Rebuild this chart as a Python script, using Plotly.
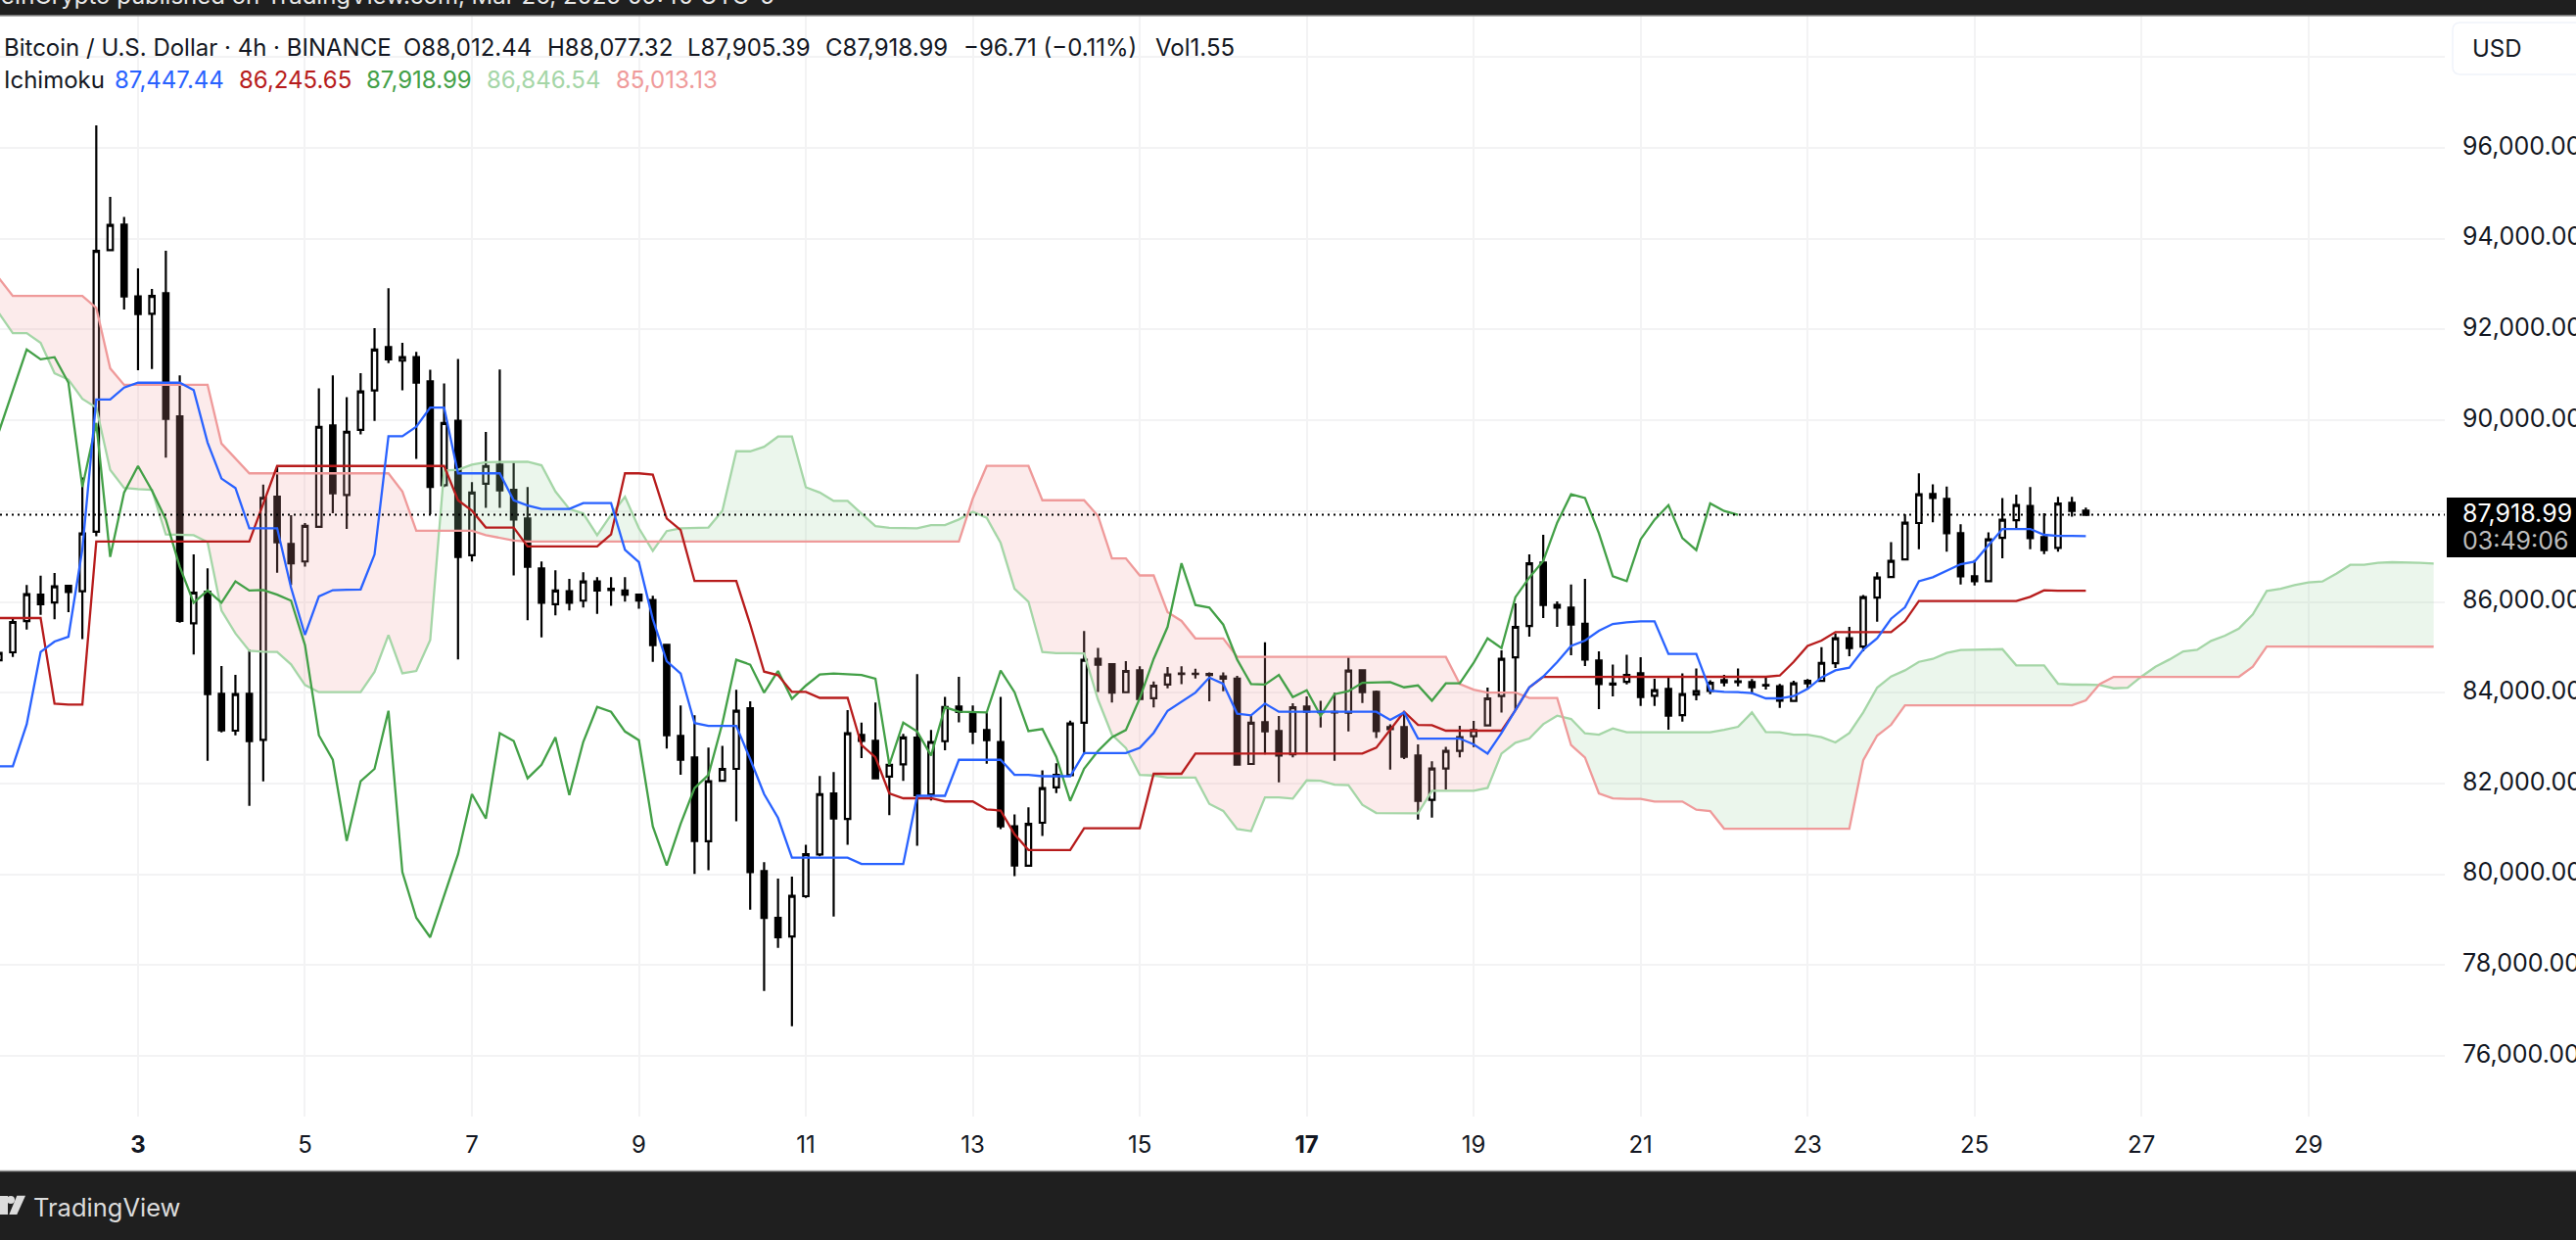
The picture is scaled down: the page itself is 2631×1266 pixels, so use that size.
import pandas as pd
import plotly.graph_objects as go

# BTC/USD 4h candles, first bar is 1 Mar 08:00
open_ = [84716, 84889, 85579, 86159, 85989, 86352, 86236, 87546, 93748, 94311,
         92731, 92346, 92800, 90088, 85527, 86227, 83976, 83163, 83976, 82962,
         88316, 87276, 86891, 87654, 89888, 88355, 89788, 90658, 91614, 91313,
         91390, 90859, 88571, 89988, 87030, 88601, 89025, 88470, 87839, 86737,
         85951, 86236, 86028, 86452, 86290, 86251, 86159, 86044, 85057, 83046,
         82576, 80727, 82060, 82322, 83655, 80072, 79042, 78630, 79517, 80435,
         81783, 81220, 83069, 82938, 82152, 82422, 83008, 81760, 82931, 83693,
         83562, 83177, 82915, 81058, 80187, 81135, 81914, 82183, 83339, 84749,
         84626, 84010, 84495, 83878, 84179, 84410, 84420, 84410, 84356, 84310,
         82430, 83350, 83155, 82645, 83695, 83590, 83575, 83558, 84493, 84018,
         83240, 83242, 82616, 81638, 82328, 82717, 83040, 83278, 83925, 84781,
         85471, 86866, 85931, 85874, 85521, 84709, 84200, 84241, 84428, 83932,
         84083, 83508, 83961, 84040, 84277, 84250, 84234, 84170, 84141, 83817,
         84263, 84263, 84651, 85198, 85018, 86097, 86550, 86938, 87737, 88377,
         88269, 87514, 86564, 86456, 87413, 87801, 88111, 87427, 87190, 88182,
         88012]
high = [84900, 85666, 86374, 86575, 86637, 86367, 88740, 96499, 94919, 94480,
        93348, 92893, 93733, 90990, 87045, 86737, 84587, 84393, 84947, 88586,
        88994, 87908, 87738, 90705, 90990, 90512, 91036, 92030, 92908, 91706,
        91506, 91113, 90813, 91352, 88640, 89742, 91121, 89064, 88532, 86891,
        86698, 86505, 86652, 86544, 86544, 86544, 86174, 86136, 85057, 83717,
        83501, 82792, 82831, 84063, 83809, 80265, 79905, 79948, 80650, 82168,
        82253, 83616, 83339, 83786, 82499, 83092, 84410, 83177, 83909, 84348,
        83717, 83562, 83909, 81320, 81475, 82291, 82445, 83385, 85358, 84988,
        84626, 84695, 84580, 84248, 84564, 84580, 84526, 84449, 84449, 84371,
        83501, 85111, 83486, 83767, 83918, 83824, 83997, 84781, 84493, 84047,
        83306, 83580, 82860, 82487, 82810, 83270, 83378, 84112, 84932, 85967,
        87046, 87478, 86011, 86384, 86507, 84910, 84622, 84838, 84781, 84306,
        84335, 84428, 84536, 84277, 84392, 84536, 84299, 84335, 84191, 84263,
        84299, 85004, 85306, 85450, 86154, 86651, 87319, 87931, 88830, 88592,
        88542, 87708, 86924, 87535, 88290, 88362, 88528, 87952, 88312, 88312,
        88077]
low = [84650, 84788, 85392, 85712, 85620, 85773, 85180, 87446, 93733, 92438,
       91105, 91129, 89179, 85542, 84839, 82501, 83127, 83062, 81509, 82048,
       86644, 86374, 86775, 87654, 87954, 87607, 89688, 89988, 91260, 90658,
       89148, 87931, 88532, 84731, 86891, 88070, 88070, 86582, 85594, 85220,
       85702, 85812, 85874, 85735, 85912, 86005, 85850, 84680, 82769, 82191,
       80010, 80087, 82037, 81166, 79221, 77431, 78380, 76655, 79479, 80396,
       79070, 80650, 82561, 82114, 81305, 82060, 80627, 81628, 82730, 83347,
       82869, 82437, 80997, 79957, 80187, 80843, 81790, 82183, 82638, 84017,
       83786, 84010, 83863, 83678, 84094, 84187, 84310, 83809, 84032, 82414,
       82430, 82638, 82026, 82573, 82681, 83234, 82501, 83148, 83774, 83004,
       82307, 82537, 81206, 81249, 81868, 82573, 82803, 83278, 83565, 83616,
       85234, 85644, 85450, 84824, 84586, 83637, 83918, 84184, 83709, 83709,
       83184, 83364, 83831, 83968, 84141, 84141, 83975, 84069, 83666, 83795,
       84069, 84263, 84543, 84802, 84910, 85565, 86550, 86938, 87161, 87751,
       87104, 86385, 86363, 86435, 86960, 87607, 87161, 87053, 87104, 87880,
       87905]
close = [84875, 85558, 86169, 85951, 86344, 86220, 87507, 93733, 94303, 92731,
         92338, 92739, 90034, 85581, 86205, 83968, 83170, 83968, 82933, 88293,
         87315, 86852, 87677, 89857, 88393, 89749, 90635, 91560, 91344, 91390,
         90828, 88532, 89942, 86991, 88409, 88994, 88455, 87815, 86775, 85982,
         86251, 85982, 86452, 86251, 86260, 86159, 86028, 85050, 83062, 82522,
         80735, 82052, 82322, 83601, 80049, 79042, 78612, 79525, 80442, 81767,
         81228, 83108, 82938, 82114, 82414, 83015, 81744, 82915, 83686, 83578,
         83146, 82954, 81058, 80195, 81112, 81898, 82191, 83324, 84726, 84618,
         84002, 84479, 83863, 84156, 84402, 84425, 84410, 84390, 84310, 82414,
         83339, 83148, 82616, 83680, 83580, 83570, 83565, 84486, 84011, 83155,
         83200, 82587, 81616, 82328, 82717, 83019, 83177, 83875, 84745, 85450,
         86852, 85931, 85874, 85500, 84730, 84191, 84180, 84392, 83903, 84054,
         83493, 83968, 84033, 84220, 84227, 84235, 84119, 84160, 83824, 84205,
         84205, 84658, 85198, 84982, 86104, 86536, 86902, 87744, 88370, 88290,
         87514, 86564, 86456, 87377, 87809, 88132, 87406, 87140, 88168, 88003,
         87919]

# Ichimoku lines, same first bar as the candles
tenkan = [82379, 82379, 83307, 84896, 85126, 85234, 87160, 90458, 90458, 90720,
          90828, 90828, 90828, 90828, 90666, 89511, 88717, 88509, 87623, 87623,
          87623, 86313, 85273, 86120, 86259, 86267, 86275, 87045, 89649, 89649,
          89857, 90281, 90281, 88832, 88832, 88832, 88832, 88239, 88124, 88047,
          88047, 88047, 88178, 88178, 88178, 87145, 86875, 85620, 84695, 84425,
          83331, 83270, 83270, 83270, 82538, 81767, 81243, 80365, 80365, 80365,
          80365, 80365, 80226, 80226, 80226, 80226, 81729, 81729, 81729, 82522,
          82522, 82522, 82522, 82191, 82191, 82160, 82160, 82160, 82669, 82669,
          82669, 82669, 82784, 83116, 83601, 83794, 84002, 84333, 84194, 83539,
          83501, 83760, 83580, 83580, 83580, 83580, 83580, 83580, 83580, 83580,
          83400, 83565, 82990, 82990, 82990, 82990, 82860, 82659, 83112, 83616,
          84119, 84356, 84673, 85032, 85148, 85363, 85514, 85550, 85572, 85572,
          84853, 84853, 84853, 84047, 84018, 84011, 83990, 83875, 83875, 83925,
          84083, 84335, 84493, 84551, 84946, 85198, 85629, 85881, 86456, 86543,
          86687, 86830, 86888, 87248, 87607, 87607, 87607, 87478, 87456, 87456,
          87447]
kijun = [85644, 85644, 85644, 85644, 83760, 83738, 83738, 87330, 87330, 87330,
         87330, 87330, 87330, 87330, 87330, 87330, 87330, 87330, 87330, 88162,
         88994, 88994, 88994, 88994, 88994, 88994, 88994, 88994, 88994, 88994,
         88994, 88994, 88994, 88239, 88008, 87638, 87638, 87638, 87222, 87222,
         87222, 87222, 87222, 87222, 87484, 88832, 88832, 88802, 87839, 87584,
         86460, 86460, 86460, 86460, 85504, 84464, 84387, 84017, 84017, 83886,
         83886, 83886, 82846, 82576, 81783, 81675, 81675, 81675, 81605, 81605,
         81605, 81428, 81405, 80881, 80534, 80534, 80534, 80534, 81012, 81012,
         81012, 81012, 81012, 82214, 82214, 82214, 82660, 82660, 82660, 82660,
         82660, 82660, 82660, 82660, 82660, 82660, 82660, 82660, 82660, 82789,
         83184, 83580, 83292, 83285, 83163, 83163, 83163, 83163, 83163, 83616,
         84119, 84349, 84350, 84350, 84350, 84350, 84350, 84350, 84350, 84350,
         84350, 84350, 84350, 84350, 84350, 84350, 84350, 84350, 84378, 84680,
         85032, 85148, 85334, 85334, 85334, 85334, 85334, 85579, 86018, 86018,
         86018, 86018, 86018, 86018, 86018, 86018, 86111, 86255, 86246, 86246,
         86246]
# lagging span, ends 25 bars before the last candle
chikou = [89749, 90635, 91560, 91344, 91390, 90828, 88532, 89942, 86991, 88409,
          88994, 88455, 87815, 86775, 85982, 86251, 85982, 86452, 86251, 86260,
          86159, 86028, 85050, 83062, 82522, 80735, 82052, 82322, 83601, 80049,
          79042, 78612, 79525, 80442, 81767, 81228, 83108, 82938, 82114, 82414,
          83015, 81744, 82915, 83686, 83578, 83146, 82954, 81058, 80195, 81112,
          81898, 82191, 83324, 84726, 84618, 84002, 84479, 83863, 84156, 84402,
          84425, 84410, 84390, 84310, 82414, 83339, 83148, 82616, 83680, 83580,
          83570, 83565, 84486, 84011, 83155, 83200, 82587, 81616, 82328, 82717,
          83019, 83177, 83875, 84745, 85450, 86852, 85931, 85874, 85500, 84730,
          84191, 84180, 84392, 83903, 84054, 83493, 83968, 84033, 84220, 84227,
          84235, 84119, 84160, 83824, 84205, 84205, 84658, 85198, 84982, 86104,
          86536, 86902, 87744, 88370, 88290, 87514, 86564, 86456, 87377, 87809,
          88132, 87406, 87140, 88168, 88003, 87919]
# cloud, runs 25 bars past the last candle
senkou_a = [92361, 91922, 91922, 91706, 91036, 90897, 90474, 90281, 88910, 88509,
            88486, 88470, 87484, 87469, 87469, 87315, 85812, 85306, 84925, 84903,
            84896, 84623, 84170, 84012, 84012, 84012, 84012, 84458, 85270, 84429,
            84479, 85162, 88894, 88910, 89025, 89079, 89087, 89087, 89087, 89010,
            88432, 88047, 87946, 87469, 87916, 88316, 87623, 87122, 87561, 87623,
            87631, 87638, 88008, 89318, 89318, 89418, 89642, 89642, 88525, 88409,
            88224, 88224, 87947, 87669, 87631, 87623, 87623, 87692, 87692, 87816,
            87985, 87854, 87299, 86290, 86005, 84895, 84872, 84872, 84865, 83848,
            83077, 82784, 82191, 82176, 82130, 82130, 82130, 81551, 81397, 80997,
            80950, 81695, 81695, 81667, 82069, 82062, 81976, 81962, 81530, 81350,
            81343, 81343, 81343, 81839, 81839, 81839, 81839, 81904, 82659, 82896,
            82990, 83306, 83493, 83421, 83105, 83076, 83213, 83127, 83127, 83127,
            83127, 83127, 83127, 83127, 83184, 83249, 83565, 83134, 83127, 83076,
            83076, 83019, 82904, 83112, 83565, 84112, 84356, 84493, 84680, 84745,
            84874, 84939, 84946, 84960, 84960, 84601, 84601, 84601, 84198, 84177,
            84177, 84169, 84097, 84112, 84356, 84572, 84730, 84910, 84946, 85140,
            85255, 85414, 85723, 86241, 86291, 86370, 86428, 86449, 86622, 86816,
            86816, 86859, 86874, 86859, 86859, 86846]
senkou_b = [93132, 92739, 92739, 92739, 92739, 92739, 92739, 92477, 91144, 90782,
            90782, 90782, 90782, 90782, 90782, 90782, 89487, 89164, 88832, 88832,
            88832, 88832, 88832, 88832, 88832, 88832, 88832, 88832, 88832, 88432,
            87569, 87569, 87569, 87569, 87569, 87469, 87407, 87353, 87330, 87330,
            87330, 87330, 87330, 87330, 87330, 87330, 87330, 87330, 87330, 87330,
            87330, 87330, 87330, 87330, 87330, 87330, 87330, 87330, 87330, 87330,
            87330, 87330, 87330, 87330, 87330, 87330, 87330, 87330, 87330, 87330,
            88278, 88995, 88995, 88995, 88995, 88239, 88239, 88239, 88239, 87893,
            86960, 86960, 86583, 86583, 85774, 85581, 85196, 85196, 85196, 84790,
            84790, 84790, 84790, 84790, 84790, 84790, 84790, 84790, 84790, 84790,
            84790, 84790, 84790, 84790, 84790, 84191, 84069, 84004, 84004, 84004,
            83882, 83882, 83882, 82846, 82573, 81782, 81674, 81660, 81660, 81602,
            81602, 81602, 81422, 81393, 81005, 81005, 81005, 81005, 81005, 81005,
            81005, 81005, 81005, 81005, 82515, 83055, 83292, 83723, 83723, 83723,
            83723, 83723, 83723, 83723, 83723, 83723, 83723, 83723, 83723, 83723,
            83831, 84191, 84349, 84349, 84349, 84349, 84349, 84349, 84349, 84349,
            84349, 84349, 84572, 85018, 85018, 85018, 85018, 85018, 85018, 85018,
            85018, 85018, 85018, 85018, 85018, 85013]

price_ticks = [76000, 78000, 80000, 82000, 84000, 86000, 88000, 90000, 92000, 94000, 96000, 98000]
# 88,000 sits under the price tag and 98,000 under the USD button
price_labels = ["76,000.00", "78,000.00", "80,000.00", "82,000.00", "84,000.00", "86,000.00",
                "", "90,000.00", "92,000.00", "94,000.00", "96,000.00", ""]
day_ticks = ["2025-03-03", "2025-03-05", "2025-03-07", "2025-03-09", "2025-03-11", "2025-03-13", "2025-03-15",
             "2025-03-17", "2025-03-19", "2025-03-21", "2025-03-23", "2025-03-25", "2025-03-27", "2025-03-29"]
day_labels = ["<b>3</b>", "5", "7", "9", "11", "13", "15", "<b>17</b>", "19", "21", "23", "25", "27", "29"]
last_price = 87918.99

BLUE, RED, GREEN, LIGHT_GREEN, LIGHT_RED = "#2962ff", "#b71c1c", "#43a047", "#a5d6a7", "#ef9a9a"
FONT = "Inter"
TEXT = "#131722"

# page pixels of the chart pane
PANE_W, PANE_T, PANE_B = 2497, 16, 1140
W, H = 2631, 1266


def px(x):
    return x / PANE_W


def py(y):
    return (PANE_B - y) / (PANE_B - PANE_T)


t0 = pd.Timestamp("2025-03-01 08:00")


def bar_time(i):
    return t0 + pd.Timedelta(hours=4 * i)


bars = [bar_time(i) for i in range(len(senkou_a))]


def cloud_regions(a, b):
    # split the cloud where the two spans cross, one polygon per colour run
    regions = []
    cur = [(0, a[0], b[0])]
    for i in range(1, len(a)):
        d0, d1 = a[i - 1] - b[i - 1], a[i] - b[i]
        if d0 * d1 < 0:
            f = d0 / (d0 - d1)
            v = a[i - 1] + f * (a[i] - a[i - 1])
            cur.append((i - 1 + f, v, v))
            regions.append((d0 > 0, cur))
            cur = [(i - 1 + f, v, v)]
        cur.append((i, a[i], b[i]))
    regions.append((a[-1] - b[-1] > 0, cur))
    return regions


fig = go.Figure()

for is_green, pts in cloud_regions(senkou_a, senkou_b):
    xs = [bar_time(p[0]) for p in pts] + [bar_time(p[0]) for p in reversed(pts)]
    ys = [p[1] for p in pts] + [p[2] for p in reversed(pts)]
    fig.add_trace(go.Scatter(
        x=xs, y=ys, mode="lines", fill="toself", line=dict(width=0),
        fillcolor="rgba(165,214,167,0.22)" if is_green else "rgba(239,154,154,0.2)",
        hoverinfo="skip", showlegend=False
    ))

for name, vals, color in [("Leading Span A", senkou_a, LIGHT_GREEN), ("Leading Span B", senkou_b, LIGHT_RED),
                          ("Lagging Span", chikou, GREEN), ("Base Line", kijun, RED),
                          ("Conversion Line", tenkan, BLUE)]:
    fig.add_trace(go.Scatter(x=bars[:len(vals)], y=vals, mode="lines", name=name,
                             line=dict(color=color, width=2.3), showlegend=False))

fig.add_trace(go.Candlestick(
    x=bars[:len(close)], open=open_, high=high, low=low, close=close,
    increasing=dict(line=dict(color="#000000", width=2.2), fillcolor="#ffffff"),
    decreasing=dict(line=dict(color="#000000", width=2.2), fillcolor="#000000"),
    whiskerwidth=0, showlegend=False, name="BTCUSD"
))

shapes = [
    # last price line
    dict(type="line", xref="paper", x0=0, x1=1, yref="y", y0=last_price, y1=last_price,
         line=dict(color="#000000", width=2, dash="2px,4px")),
    # top and bottom bars
    dict(type="rect", xref="paper", yref="paper", x0=px(0), x1=px(W), y0=py(0), y1=py(16),
         fillcolor="#1f1f1f", line_width=0),
    dict(type="rect", xref="paper", yref="paper", x0=px(0), x1=px(W), y0=py(1195), y1=py(H + 2),
         fillcolor="#1f1f1f", line_width=0),
    dict(type="line", xref="paper", yref="paper", x0=px(0), x1=px(W), y0=py(16), y1=py(16),
         line=dict(color="#8f8f8f", width=1.5)),
    dict(type="line", xref="paper", yref="paper", x0=px(0), x1=px(W), y0=py(1195.5), y1=py(1195.5),
         line=dict(color="#9a9a9a", width=1.5)),
    # price tag
    dict(type="rect", xref="paper", yref="paper", x0=px(2499), x1=px(W), y0=py(508), y1=py(569),
         fillcolor="#000000", line_width=0),
    # USD button
    dict(type="path", xref="paper", yref="paper",
         path=f"M {px(W + 20)},{py(23)} L {px(2513)},{py(23)} Q {px(2505)},{py(23)} {px(2505)},{py(31)} "
              f"L {px(2505)},{py(68)} Q {px(2505)},{py(76)} {px(2513)},{py(76)} L {px(W + 20)},{py(76)}",
         line=dict(color="#f0f3fa", width=1.5), fillcolor="#ffffff"),
    # TradingView mark
    dict(type="rect", xref="paper", yref="paper", x0=px(0), x1=px(8), y0=py(1221), y1=py(1240),
         fillcolor="#dcdcdc", line_width=0),
    dict(type="circle", xref="paper", yref="paper", x0=px(7), x1=px(15), y0=py(1221), y1=py(1229),
         fillcolor="#dcdcdc", line_width=0),
    dict(type="path", xref="paper", yref="paper",
         path=f"M {px(17.3)},{py(1220.7)} L {px(26)},{py(1220.7)} L {px(17.3)},{py(1240)} L {px(9.3)},{py(1240)} Z",
         fillcolor="#dcdcdc", line_width=0),
]


def label(x, y, text, color=TEXT, size=24, anchor="left"):
    return dict(xref="paper", yref="paper", x=px(x), y=py(y), text=text, showarrow=False, xanchor=anchor,
                yanchor="middle", borderpad=0, font=dict(family=FONT, size=size, color=color))


annotations = [
    label(792, -4, "BeInCrypto published on TradingView.com, Mar 26, 2025 09:40 UTC-5", "#e8e8e8", 24, "right"),
    label(3, 48, "Bitcoin / U.S. Dollar · 4h · BINANCE"),
    label(411, 48, "O88,012.44"),
    label(558, 48, "H88,077.32"),
    label(701, 48, "L87,905.39"),
    label(842, 48, "C87,918.99"),
    label(983, 48, "−96.71 (−0.11%)"),
    label(1179, 48, "Vol1.55"),
    label(3, 82, "Ichimoku"),
    label(116, 82, "87,447.44", BLUE),
    label(243, 82, "86,245.65", RED),
    label(373, 82, "87,918.99", GREEN),
    label(496, 82, "86,846.54", LIGHT_GREEN),
    label(628, 82, "85,013.13", LIGHT_RED),
    label(2524, 49, "USD", TEXT, 24),
    label(2514, 524, "87,918.99", "#ffffff", 25),
    label(2514, 552, "03:49:06", "#bdbdbd", 25),
    label(33, 1232, "TradingView", "#dcdcdc", 25.5),
]

fig.update_layout(
    width=W, height=H,
    margin=dict(l=0, r=W - PANE_W, t=PANE_T, b=H - PANE_B, autoexpand=False),
    paper_bgcolor="#ffffff", plot_bgcolor="#ffffff",
    boxgap=0.45,
    showlegend=False,
    shapes=shapes,
    annotations=annotations,
    font=dict(family=FONT, color=TEXT, size=24),
    xaxis=dict(
        type="date", rangeslider=dict(visible=False),
        range=[bar_time(0.08), bar_time(175.8)],
        tickvals=day_ticks, ticktext=day_labels, tickangle=0,
        showgrid=True, gridcolor="#f3f3f4", gridwidth=2, zeroline=False, showline=False,
        ticks="outside", ticklen=7, tickcolor="rgba(0,0,0,0)",
        tickfont=dict(family=FONT, size=24, color=TEXT)
    ),
    yaxis=dict(
        side="right", range=[74663, 98913],
        tickvals=price_ticks, ticktext=price_labels,
        showgrid=True, gridcolor="#f3f3f4", gridwidth=2, zeroline=False, showline=False,
        ticks="outside", ticklen=12, tickcolor="rgba(0,0,0,0)", ticklabelshift=-2,
        tickfont=dict(family=FONT, size=25, color=TEXT)
    ),
)

# the page's default body margin would push the 2631 px figure off by 8 px
fig.write_html("out.html", config=dict(displayModeBar=False),
               post_script="document.body.style.margin='0';document.body.style.overflow='hidden';")
